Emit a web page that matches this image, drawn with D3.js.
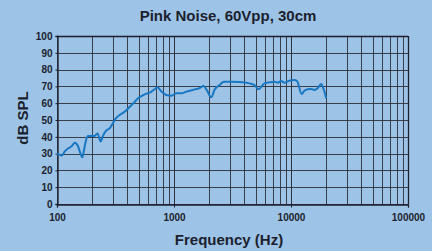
<!DOCTYPE html>
<html><head><meta charset="utf-8">
<script src="https://cdn.jsdelivr.net/npm/d3@7"></script>
<style>html,body{margin:0;padding:0;background:#9dc3e6;}svg{display:block;font-family:"Liberation Sans",Arial,sans-serif;}</style>
</head><body>
<script>
const title = "Pink Noise, 60Vpp, 30cm";
const xLabel = "Frequency (Hz)";
const yLabel = "dB SPL";
const xTicks = [100, 1000, 10000, 100000];
const yTicks = [0,10,20,30,40,50,60,70,80,90,100];
const freq = [100,106,110,117,124,134,142,151,157,165,170,177,184,195,209,222,236,247,262,283,300,318,344,380,419,462,493,562,621,684,721,781,861,950,1048,1156,1276,1443,1656,1791,1900,2083,2222,2454,2669,2985,3632,4418,4875,5272,5933,6546,7222,7705,8240,8790,9690,10690,11270,12340,13000,13870,14830,15820,16900,18070,18880,20000];
const spl = [30,29.2,28.8,31.5,33,34.5,36.5,34.5,31,27.8,32,38,40.5,40.5,40.5,42,37.2,40.5,43.5,45.2,47.9,51,53,55,57.9,60.9,62.9,65.3,66.3,68.3,69.5,66.9,64.9,64.5,65.9,65.9,66.9,67.9,69,70.2,68,63.5,68,70.8,72.8,72.8,72.6,71.8,70.8,68.3,71.8,72.4,72.8,72.2,73.2,72.2,73.4,73.8,73.2,65.5,67.4,68.3,68.5,67.9,68.9,71.4,68.9,62.9];

const W=432,H=251;
const m={l:57,r:24,t:36,b:47};
const svg=d3.select("body").append("svg").attr("width",W).attr("height",H);
svg.append("rect").attr("width",W).attr("height",H).attr("fill","#9dc3e6");
const x=d3.scaleLog().domain([100,100000]).range([m.l,W-m.r]);
const y=d3.scaleLinear().domain([0,100]).range([H-m.b,m.t]);
const ink="#1b1f2e";
const gridCol="#2e3138";

const vgrid=[];
for(let d=100; d<100000; d*=10) for(let k=1;k<=10;k++) vgrid.push(d*k);
const g=svg.append("g");
g.selectAll("line.v").data(vgrid).join("line")
 .attr("x1",d=>Math.round(x(d))+0.5).attr("x2",d=>Math.round(x(d))+0.5)
 .attr("y1",y(100)).attr("y2",y(0))
 .attr("stroke",gridCol).attr("stroke-width",1).attr("stroke-opacity",0.9);
g.selectAll("line.h").data(yTicks).join("line")
 .attr("x1",x(100)).attr("x2",x(100000))
 .attr("y1",d=>Math.round(y(d))+0.5).attr("y2",d=>Math.round(y(d))+0.5)
 .attr("stroke",gridCol).attr("stroke-width",1).attr("stroke-opacity",0.9);

const xAxis=d3.axisBottom(x).tickValues(xTicks).tickFormat(d3.format("d")).tickSize(3).tickPadding(6);
const ax=svg.append("g").attr("transform",`translate(0,${Math.round(y(0))+0.5})`).call(xAxis);
const yAxis=d3.axisLeft(y).tickValues(yTicks).tickFormat(d3.format("d")).tickSize(2).tickPadding(3);
const ay=svg.append("g").attr("transform",`translate(${Math.round(x(100))+0.5},0)`).call(yAxis);
[ax,ay].forEach(a=>{
  a.select(".domain").attr("stroke",ink).attr("stroke-width",1.3);
  a.selectAll(".tick line").attr("stroke",ink);
  a.selectAll("text").attr("fill",ink).attr("font-size",10).attr("font-weight","bold").attr("font-family","'Liberation Sans',Arial,sans-serif");
});
svg.append("line").attr("x1",x(100)).attr("x2",x(100000)).attr("y1",Math.round(y(100))+0.5).attr("y2",Math.round(y(100))+0.5).attr("stroke",ink).attr("stroke-width",1.3);
svg.append("line").attr("x1",Math.round(x(100000))+0.5).attr("x2",Math.round(x(100000))+0.5).attr("y1",y(100)).attr("y2",y(0)).attr("stroke",ink).attr("stroke-width",1.3);

const pts=freq.map((f,i)=>[f,spl[i]]);
svg.append("path").datum(pts)
 .attr("d",d3.line().x(d=>x(d[0])).y(d=>y(d[1])).curve(d3.curveMonotoneX))
 .attr("fill","none").attr("stroke","#1877c2").attr("stroke-width",2).attr("stroke-linejoin","round");

svg.append("text").attr("x",228).attr("y",21).attr("text-anchor","middle")
 .attr("font-size",15).attr("font-weight","bold").attr("fill",ink).text(title);
svg.append("text").attr("x",229).attr("y",245).attr("text-anchor","middle")
 .attr("font-size",15).attr("font-weight","bold").attr("fill",ink).text(xLabel);
svg.append("text").attr("transform","translate(28,118) rotate(-90)").attr("text-anchor","middle")
 .attr("font-size",15).attr("font-weight","bold").attr("fill",ink).text(yLabel);
</script>
</body></html>
